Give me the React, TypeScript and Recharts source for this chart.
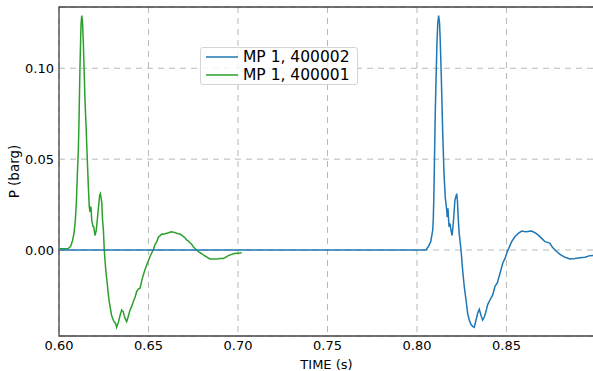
import React from 'react';
import { LineChart, Line, XAxis, YAxis, CartesianGrid, ReferenceArea } from 'recharts';

const xTicks = [0.6, 0.65, 0.7, 0.75, 0.8, 0.85];
const yTicks = [0, 0.05, 0.1];
const xDomain = [0.6, 0.8989];
const yDomain = [-0.0473, 0.1337];
const seriesNames = ['MP 1, 400002', 'MP 1, 400001'];
const seriesColors = ['#1f77b4', '#2ca02c'];
const xLabel = 'TIME (s)';
const yLabel = 'P (barg)';

// MP 1, 400001 (green)
const greenTime = [
  0.6, 0.605, 0.6065, 0.6075, 0.6084, 0.6091, 0.6097, 0.6102, 0.6108, 0.6112,
  0.6117, 0.6123, 0.6127, 0.6131, 0.6136, 0.614, 0.6145, 0.6152, 0.6158, 0.6164,
  0.6169, 0.6173, 0.6176, 0.6179, 0.6183, 0.6186, 0.619, 0.6194, 0.6198, 0.6201,
  0.6205, 0.6208, 0.6214, 0.6219, 0.6223, 0.6227, 0.6231, 0.6235, 0.6239, 0.6243,
  0.6248, 0.6253, 0.6258, 0.6263, 0.6269, 0.6275, 0.628, 0.6285, 0.6294, 0.6303,
  0.6308, 0.6313, 0.6318, 0.6322, 0.6327, 0.6331, 0.6336, 0.6341, 0.635, 0.6359,
  0.6364, 0.6369, 0.6378, 0.6387, 0.6397, 0.6406, 0.6415, 0.6425, 0.6434, 0.6443,
  0.6453, 0.6462, 0.6471, 0.648, 0.649, 0.6499, 0.6508, 0.6518, 0.6527, 0.6536,
  0.6546, 0.6555, 0.6564, 0.6574, 0.6583, 0.6592, 0.6601, 0.6611, 0.662, 0.663,
  0.6639, 0.6648, 0.6657, 0.6666, 0.6676, 0.6685, 0.6694, 0.6704, 0.6713, 0.6722,
  0.6732, 0.6741, 0.675, 0.676, 0.6769, 0.6778, 0.6788, 0.6797, 0.6806, 0.6816,
  0.6825, 0.6834, 0.6844, 0.6853, 0.6862, 0.6872, 0.6881, 0.689, 0.69, 0.6909,
  0.6918, 0.6927, 0.6937, 0.6946, 0.6955, 0.6965, 0.6974, 0.6983, 0.6993, 0.7002,
  0.7012, 0.7021,
];
const greenP = [
  0.0007, 0.0007, 0.002, 0.005, 0.0093, 0.016, 0.026, 0.04, 0.055, 0.072,
  0.1, 0.124, 0.129, 0.126, 0.114, 0.1, 0.083, 0.066, 0.05, 0.035,
  0.024, 0.021, 0.024, 0.023, 0.016, 0.015, 0.013, 0.0128, 0.01, 0.008,
  0.0095, 0.011, 0.0165, 0.022, 0.026, 0.03, 0.031, 0.029, 0.026, 0.017,
  0.011, 0.0, -0.007, -0.0128, -0.018, -0.024, -0.028, -0.031, -0.036, -0.0385,
  -0.0395, -0.04, -0.041, -0.0425, -0.041, -0.04, -0.038, -0.036, -0.033, -0.034,
  -0.036, -0.0375, -0.0394, -0.0366, -0.033, -0.031, -0.0284, -0.026, -0.0229, -0.0215,
  -0.021, -0.017, -0.0137, -0.011, -0.0082, -0.006, -0.0037, -0.0015, 0.0, 0.003,
  0.0045, 0.007, 0.0078, 0.0088, 0.0087, 0.009, 0.0092, 0.0095, 0.0098, 0.01,
  0.0098, 0.0097, 0.0092, 0.009, 0.0088, 0.0082, 0.0075, 0.0068, 0.0055, 0.005,
  0.004, 0.0032, 0.0018, 0.0008, 0.0, -0.0008, -0.0015, -0.002, -0.0026, -0.0033,
  -0.0038, -0.0044, -0.0049, -0.005, -0.0049, -0.005, -0.005, -0.0048, -0.0047, -0.0046,
  -0.0046, -0.0042, -0.0036, -0.0031, -0.0027, -0.0024, -0.0021, -0.0019, -0.0018, -0.0018,
  -0.0016, -0.0015,
];

// MP 1, 400002 (blue)
const blueTime = [
  0.6, 0.805, 0.8063, 0.8077, 0.8088, 0.8091, 0.8094, 0.8097, 0.8102, 0.8108,
  0.8112, 0.8116, 0.8121, 0.8126, 0.813, 0.8136, 0.8144, 0.8151, 0.8158, 0.8166,
  0.8169, 0.8173, 0.8179, 0.8184, 0.819, 0.8196, 0.8203, 0.8212, 0.8222, 0.8226,
  0.8231, 0.8236, 0.824, 0.8246, 0.8255, 0.8264, 0.8274, 0.8283, 0.8292, 0.8302,
  0.8311, 0.832, 0.833, 0.8339, 0.8348, 0.8358, 0.8367, 0.8376, 0.8385, 0.8395,
  0.8408, 0.8423, 0.8436, 0.8449, 0.8464, 0.8479, 0.8492, 0.8504, 0.8516, 0.8529,
  0.8547, 0.8566, 0.8585, 0.8599, 0.8613, 0.8627, 0.8641, 0.8659, 0.8678, 0.8697,
  0.8715, 0.8729, 0.8743, 0.8757, 0.8771, 0.8785, 0.8799, 0.8827, 0.8855, 0.8883,
  0.8911, 0.8939, 0.8966, 0.8989,
];
const blueP = [
  0.0, 0.0, 0.0018, 0.0046, 0.011, 0.0165, 0.028, 0.045, 0.075, 0.1,
  0.115, 0.1245, 0.129, 0.125, 0.115, 0.095, 0.064, 0.042, 0.029, 0.022,
  0.018, 0.023, 0.0128, 0.0147, 0.011, 0.008, 0.0147, 0.0275, 0.031, 0.027,
  0.0165, 0.009, 0.0055, 0.0, -0.011, -0.02, -0.0275, -0.0348, -0.0385, -0.041,
  -0.042, -0.0425, -0.0385, -0.0348, -0.0326, -0.036, -0.0385, -0.037, -0.034, -0.03,
  -0.0275, -0.0247, -0.02, -0.018, -0.0128, -0.0073, -0.0046, -0.001, 0.0016, 0.0046,
  0.0073, 0.0092, 0.0104, 0.0102, 0.0101, 0.0103, 0.0104, 0.0095, 0.0082, 0.0064,
  0.0046, 0.0042, 0.0037, 0.0015, 0.0, -0.0012, -0.0024, -0.004, -0.0049, -0.0046,
  -0.0042, -0.004, -0.0031, -0.003,
];

const greenData = greenTime.map((t, i) => ({ t, p: greenP[i] }));
const blueData = blueTime.map((t, i) => ({ t, p: blueP[i] }));

const FONT = 'DejaVu Sans';
const tickStyle = { fill: '#000', fontSize: 13, fontFamily: FONT };

const XLabel = (props: any) => {
  const vb = props.viewBox || {};
  return (
    <text x={vb.x + vb.width / 2} y={vb.y + 33} textAnchor="middle" fontSize={13} fontFamily={FONT} fill="#000">
      {xLabel}
    </text>
  );
};

const YLabel = (props: any) => {
  const vb = props.viewBox || {};
  const cx = vb.x + 14;
  const cy = vb.y + vb.height / 2;
  return (
    <text x={cx} y={cy} transform={`rotate(-90 ${cx} ${cy})`} textAnchor="middle" dominantBaseline="central" fontSize={13.5} fontFamily={FONT} fill="#000">
      {yLabel}
    </text>
  );
};

const LegendBox = () => (
  <div
    style={{
      position: 'absolute',
      left: 200,
      top: 47,
      width: 156,
      height: 36,
      border: '1px solid #d5d5d5',
      borderRadius: 3,
      background: 'rgba(255,255,255,0.8)',
      fontFamily: FONT,
      fontSize: 15.5,
      color: '#000',
    }}
  >
    {seriesNames.map((name, i) => (
      <div key={name} style={{ position: 'absolute', left: 5, top: 0 + i * 18, height: 18, display: 'flex', alignItems: 'center', whiteSpace: 'nowrap' }}>
        <svg width={32} height={4} style={{ display: 'block' }}>
          <line x1={0} y1={2} x2={32} y2={2} stroke={seriesColors[i]} strokeWidth={1.5} />
        </svg>
        <span style={{ marginLeft: 5, lineHeight: '18px' }}>{name}</span>
      </div>
    ))}
  </div>
);

export default function App() {
  return (
    <div style={{ position: 'absolute', left: 0, top: 0, width: 593, height: 371, overflow: 'hidden', background: '#fff' }}>
      <LineChart width={593} height={371} margin={{ top: 7, right: -1, bottom: 0, left: 0 }} style={{ fontFamily: FONT }}>
        <CartesianGrid stroke="#b0b0b0" strokeDasharray="6 5" strokeWidth={0.9} />
        <XAxis
          dataKey="t"
          type="number"
          domain={xDomain}
          ticks={xTicks}
          allowDataOverflow
          height={35}
          tickSize={0}
          tickMargin={5}
          axisLine={false}
          tickLine={false}
          tick={tickStyle}
          tickFormatter={(v: number) => v.toFixed(2)}
          label={{ content: XLabel }}
        />
        <YAxis
          type="number"
          domain={yDomain}
          ticks={yTicks}
          allowDataOverflow
          width={59}
          tickSize={0}
          tickMargin={5}
          axisLine={false}
          tickLine={false}
          tick={tickStyle}
          tickFormatter={(v: number) => v.toFixed(2)}
          label={{ content: YLabel }}
        />
        <Line data={greenData} dataKey="p" type="linear" stroke={seriesColors[1]} strokeWidth={1.5} dot={false} isAnimationActive={false} />
        <Line data={blueData} dataKey="p" type="linear" stroke={seriesColors[0]} strokeWidth={1.5} dot={false} isAnimationActive={false} />
        <ReferenceArea
          x1={xDomain[0]}
          x2={xDomain[1]}
          y1={yDomain[0]}
          y2={yDomain[1]}
          fill="none"
          fillOpacity={0}
          stroke="#444"
          strokeWidth={1.3}
          ifOverflow="visible"
        />
      </LineChart>
      <LegendBox />
    </div>
  );
}
